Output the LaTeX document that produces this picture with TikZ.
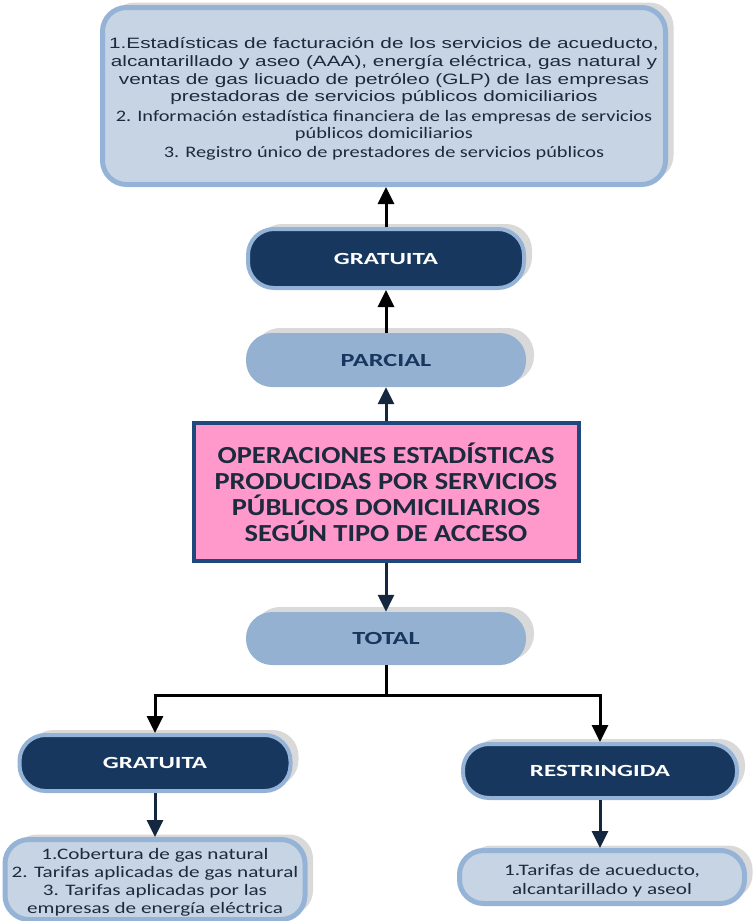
\documentclass[tikz,border=0pt]{standalone}
\usepackage{fontspec}
\setmainfont{Carlito}
\newfontfamily\arialw[FakeStretch=1.385]{Liberation Sans}
\newfontfamily\calw[FakeStretch=1.32]{Carlito}
\newfontfamily\calt[FakeStretch=1.27]{Carlito}
\newfontfamily\calm[FakeStretch=1.16]{Carlito}
\newfontfamily\calp[FakeStretch=1.47]{Carlito}
\newfontfamily\calq[FakeStretch=1.42]{Carlito}
\usetikzlibrary{arrows.meta,shadows}
\definecolor{navy}{HTML}{17375E}
\definecolor{lbfill}{HTML}{C6D4E4}
\definecolor{lbedge}{HTML}{95B3D7}
\definecolor{midblue}{HTML}{95B1D2}
\definecolor{pinkf}{HTML}{FF99CC}
\definecolor{pinkedge}{HTML}{1F497D}
\definecolor{txt}{HTML}{1C2A3E}
\definecolor{arrnavy}{HTML}{14273E}
\definecolor{shad}{HTML}{D9D9D9}
\tikzset{
  shd/.style={drop shadow={shadow xshift=8pt,shadow yshift=5pt,fill=shad,opacity=1}},
  listbox/.style={shd,draw=lbedge,line width=5pt,fill=lbfill,rounded corners=24pt,inner sep=0pt},
  listtext/.style={align=center,text=txt,inner sep=0pt},
  navypill/.style={shd,draw=lbedge,line width=4pt,fill=navy,rounded corners=26pt,text=white,font=\calp\bfseries\fontsize{17}{19}\selectfont},
  bluepill/.style={shd,fill=midblue,rounded corners=26pt,text=navy,font=\calq\bfseries\fontsize{18.5}{20}\selectfont},
  mainbox/.style={draw=pinkedge,line width=4pt,fill=pinkf,align=center,text=txt,font=\calm\bfseries\fontsize{24.5}{26}\selectfont},
  arrk/.style={line width=3pt,-{Triangle[width=16pt,length=17pt]}},
  arrn/.style={arrk,draw=arrnavy},
}
\begin{document}
\begin{tikzpicture}[x=1pt,y=-1pt]
\useasboundingbox (0,0) rectangle (755,921);
\node[listbox,minimum width=563pt,minimum height=177pt] (top) at (384,96) {};
\node[listtext,font=\fontsize{15}{17.8}\selectfont] (toptext) at (384,99.5) {%
\begin{tabular}{@{}c@{}}
\arialw 1.Estadísticas de facturación de los servicios de acueducto,\\
\arialw alcantarillado y aseo (AAA), energía eléctrica, gas natural y\\
\arialw ventas de gas licuado de petróleo (GLP) de las empresas\\
\arialw prestadoras de servicios públicos domiciliarios\\[1.5pt]
\calt\fontsize{16}{17.8}\selectfont 2. Información estadística financiera de las empresas de servicios\\
\calt\fontsize{16}{17.8}\selectfont públicos domiciliarios\\[1pt]
\calt\fontsize{16}{17.8}\selectfont 3. Registro único de prestadores de servicios públicos
\end{tabular}};
\node[navypill,minimum width=276pt,minimum height=59pt] (g1) at (386,258.5) {GRATUITA};
\node[bluepill,minimum width=280pt,minimum height=54pt] (par) at (386,360) {PARCIAL};
\node[mainbox,minimum width=385pt,minimum height=138pt] (main) at (386,492) {OPERACIONES ESTADÍSTICAS\\PRODUCIDAS POR SERVICIOS\\PÚBLICOS DOMICILIARIOS\\SEGÚN TIPO DE ACCESO};
\node[bluepill,minimum width=280pt,minimum height=53pt] (tot) at (386,638.5) {TOTAL};
\node[navypill,minimum width=271pt,minimum height=56pt] (g2) at (155,763) {GRATUITA};
\node[navypill,minimum width=274pt,minimum height=54pt] (res) at (600,771) {RESTRINGIDA};
\node[listbox,minimum width=300pt,minimum height=80pt] (l2) at (155,879.5) {};
\node[listtext,font=\calw\fontsize{16}{18}\selectfont] (l2text) at (155,882) {1.Cobertura de gas natural\\2. Tarifas aplicadas de gas natural\\3. Tarifas aplicadas por las\\empresas de energía eléctrica};
\node[listbox,minimum width=285pt,minimum height=53pt] (r2) at (602,877) {};
\node[listtext,font=\calw\fontsize{16}{19}\selectfont] (r2text) at (602,881) {1.Tarifas de acueducto,\\alcantarillado y aseol};
\coordinate (j) at (386,695);
\draw[arrk] (g1.north) -- (g1.north |- top.south);
\draw[arrk] (par.north) -- (g1.south);
\draw[arrn] (main.north) -- (par.south);
\draw[arrn] (main.south) -- (tot.north);
\draw[line width=3pt] (tot.south) -- (j);
\draw[arrk] (j) -| (g2.north);
\draw[arrk] (j) -| (res.north);
\draw[arrn] (g2.south) -- (g2.south |- l2.north);
\draw[arrn] (res.south) -- (res.south |- r2.north);
\end{tikzpicture}
\end{document}
